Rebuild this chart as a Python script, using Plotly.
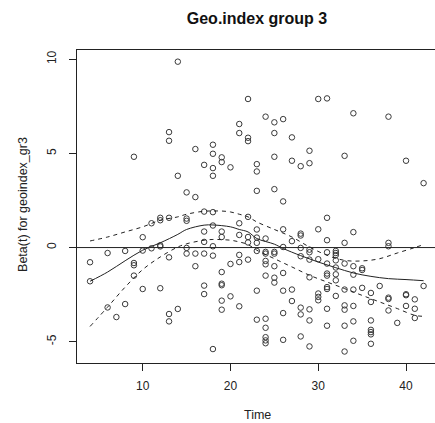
import plotly.graph_objects as go

# Scaled Schoenfeld residuals for geoindex_gr3 against time
time = [
    14, 22, 21, 21, 22, 22, 13, 13, 9, 16, 18, 18, 19, 19, 17, 18, 20, 14, 18, 15, 16, 17, 18,
    30, 31, 34, 38, 24, 25, 26, 25, 27, 29, 33, 40, 25, 27, 28, 29, 23, 23, 42, 23, 25, 26, 22, 31,
    11, 12, 12, 13, 15, 15, 10, 4, 4, 6, 8, 9, 9, 9, 10, 11, 12, 12, 13, 10, 12, 6, 8, 7, 13, 13,
    14, 18, 15, 15, 16, 17, 18, 16, 17, 18, 17, 18, 19, 19, 21, 21, 22, 22, 22, 21, 21, 20, 19, 19,
    19, 17, 17, 20, 19, 19, 21,
    23, 23, 23, 23, 24, 24, 24, 25, 25, 24, 24, 25, 24, 25, 25, 26, 26, 26, 27, 28, 28, 28, 28, 29,
    29, 29, 30, 31, 30, 31, 32, 32, 32, 31, 32, 32, 31, 31, 32, 32, 29, 31, 31, 33, 34, 33, 34, 35,
    35, 34, 38, 38, 37, 35, 34, 33, 32, 30, 30, 30, 27, 26, 23, 27, 26, 28, 28, 29, 31, 33, 33, 34,
    29, 31, 33, 34, 36, 36, 36, 36, 36, 36, 36, 38, 38, 38, 39, 40, 40, 40, 41, 41, 41, 42, 34, 33,
    28, 29, 26, 24, 23, 24, 24, 24, 24,
]
beta = [
    9.87, 7.89, 6.56, 6.08, 5.83, 5.65, 6.13, 5.67, 4.82, 5.23, 5.46, 4.98, 4.79, 4.54, 4.39, 4.22,
    4.26, 3.81, 3.81, 2.93, 2.68, 1.91, 1.88,
    7.89, 7.92, 7.13, 6.95, 6.95, 6.65, 6.82, 6.08, 5.85, 5.14, 4.87, 4.61, 4.82, 4.61, 4.32, 4.48,
    4.43, 4.04, 3.42, 3.01, 3.10, 2.45, 1.63, 1.58,
    1.29, 1.58, 1.45, 1.58, 1.54, 1.42, 0.55, -0.78, -1.79, -0.29, -0.18, -0.82, -0.94, -1.49, -0.16,
    -0.04, 0.12, 0.06, -0.52, -2.2, -2.16, -3.18, -3.0, -3.69, -3.53, -3.92, -3.26, -5.39, -0.02,
    -0.32, -0.32, -0.32, -0.43, -0.99, 0.85, 1.17, 0.30, 0.07, 0.85, 0.56, 1.29, 0.67, 0.56, 0.27,
    -0.64, -0.39, -0.77, -0.87, -1.3, -1.92, -2.0, -2.02, -2.47, -2.59, -2.82, -3.3, -3.12,
    0.53, 0.25, -0.18, 0.96, 0.48, -0.23, -0.32, -0.23, -0.32, -0.71, -0.89, -0.99, -1.49, -1.6,
    -1.86, -1.35, 0.03, 0.97, 0.34, 0.74, 0.64, -0.02, -0.46, -0.11, -0.25, -0.64, 0.97, 0.39, -0.62,
    -0.25, -0.18, -0.29, -0.4, -0.85, -0.68, -1.06, -1.38, -1.49, -1.42, -1.74, -1.58, -2.1, -2.2,
    0.25, 0.82, -0.85, -0.99, -1.1, -1.19, -1.44, 0.25, 0.07, -2.04, -2.14, -2.23, -2.23, -2.57,
    -2.44, -2.62, -2.8, -2.23, -2.29, -2.29, -2.84, -3.48, -3.19, -3.55, -3.28, -3.25, -3.07, -3.3,
    -3.1, -3.87, -4.15, -4.15, -3.92, -2.41, -2.89, -3.87, -4.37, -4.49, -4.61, -5.11, -2.66, -2.73,
    -3.34, -4.0, -2.48, -2.53, -3.1, -2.75, -3.25, -3.74, -2.04, -4.95, -5.52, -4.72, -5.25, -4.9,
    -3.78, -3.83, -4.26, -4.76, -4.93, -5.08,
]

# Smoothed beta(t) and its confidence band
fit_time = [4, 6, 8, 10, 12, 14, 15, 17, 18, 20, 21, 22, 23, 25, 26, 28, 30, 32, 34, 36, 38, 40, 42]
fit_beta = [-1.79, -1.3, -0.7, -0.14, 0.25, 0.7, 0.96, 1.19, 1.2, 1.1, 0.96, 0.83, 0.48, 0.18,
            -0.05, -0.43, -0.77, -1.07, -1.35, -1.53, -1.65, -1.70, -1.76]
band_time = [4, 6, 8, 10, 12, 14, 15, 17, 18, 19, 20, 21, 22, 23, 25, 27, 29, 31, 33, 35, 37, 39, 41, 42]
band_upper = [0.35, 0.56, 0.83, 1.1, 1.45, 1.63, 1.77, 1.93, 1.94, 1.94, 1.89, 1.77, 1.63, 1.36,
              0.96, 0.56, 0.03, -0.41, -0.68, -0.71, -0.59, -0.29, 0.0, 0.16]
band_lower = [-4.19, -3.16, -2.1, -1.17, -0.5, 0.03, 0.2, 0.39, 0.43, 0.42, 0.39, 0.3, 0.16, -0.14,
              -0.59, -1.03, -1.47, -1.83, -2.18, -2.54, -2.89, -3.24, -3.6, -3.65]

x_ticks = [10, 20, 30, 40]
y_ticks = [-5, 0, 5, 10]

ink = "#222222"
font = "Liberation Sans, Arial, sans-serif"

fig = go.Figure()
fig.add_trace(go.Scatter(
    x=time, y=beta, mode="markers",
    marker=dict(symbol="circle-open", size=5.5, color="#3a3a3a", line=dict(width=1, color="#3a3a3a")),
    hoverinfo="x+y",
))
fig.add_trace(go.Scatter(
    x=fit_time, y=fit_beta, mode="lines",
    line=dict(color=ink, width=1, shape="spline"),
))
for band in (band_upper, band_lower):
    fig.add_trace(go.Scatter(
        x=band_time, y=band, mode="lines",
        line=dict(color=ink, width=1, dash="4px,4px", shape="spline"),
    ))

fig.add_shape(type="line", xref="paper", x0=0, x1=1, yref="y", y0=0, y1=0,
              line=dict(color=ink, width=1))

fig.update_layout(
    width=435, height=423,
    margin=dict(l=77, r=0, t=50, b=60),
    paper_bgcolor="white", plot_bgcolor="white",
    showlegend=False,
    font=dict(family=font, color=ink, size=12),
    title=dict(text="<b>Geo.index group 3</b>", xref="container", x=257 / 435,
               xanchor="center", yref="container", y=1 - 18 / 423, yanchor="middle",
               font=dict(size=16, family=font, color="#111111")),
    xaxis=dict(range=[2.514, 43.30], tickvals=x_ticks, ticktext=[str(v) for v in x_ticks],
               showgrid=False, zeroline=False, showline=True, mirror=True,
               linecolor=ink, linewidth=1, ticks="outside", ticklen=7, tickcolor=ink,
               ticklabelstandoff=5, tickfont=dict(size=12)),
    yaxis=dict(range=[-6.13, 10.49], tickvals=y_ticks, ticktext=[str(v) for v in y_ticks],
               showgrid=False, zeroline=False, showline=True, mirror=False,
               linecolor=ink, linewidth=1, ticks="outside", ticklen=7, tickcolor=ink,
               ticklabelstandoff=8, tickangle=-90, tickfont=dict(size=12)),
    annotations=[
        dict(text="Time", xref="paper", yref="paper", x=0.503, y=(363 - 415) / 313,
             xanchor="center", yanchor="middle", showarrow=False, font=dict(size=12.5)),
        dict(text="Beta(t) for geoindex_gr3", xref="paper", yref="paper",
             x=(23 - 77) / 358, y=0.505, textangle=-90, xanchor="center", yanchor="middle",
             showarrow=False, font=dict(size=12.5)),
    ],
)

fig.write_html("out.html")
